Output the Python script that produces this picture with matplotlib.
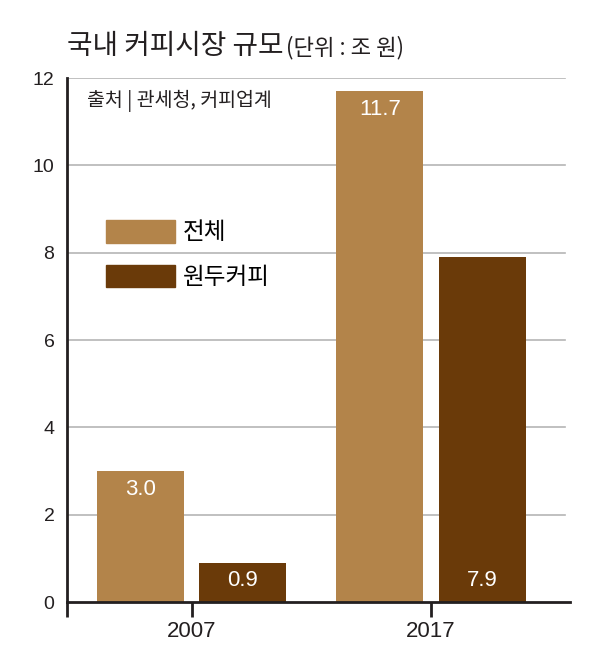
import matplotlib
matplotlib.use("Agg")
import matplotlib.pyplot as plt
import numpy as np
from matplotlib.patches import Patch

plt.rcParams['font.family'] = ['Noto Sans CJK KR', 'DejaVu Sans']

# 데이터
years = ['2007', '2017']
total = [3.0, 11.7]      # 전체
beans = [0.9, 7.9]       # 원두커피
series_names = ['전체', '원두커피']
yticks = [0, 2, 4, 6, 8, 10, 12]

c_total = '#b3844a'
c_beans = '#6a3a09'
num_font = ['Liberation Sans', 'DejaVu Sans']

fig = plt.figure(figsize=(5.97, 6.5), dpi=100)
ax = fig.add_axes([0.1122, 0.0738, 0.8425, 0.806])

x = np.arange(len(years))
w = 0.362
off = 0.214
ax.bar(x - off, total, w, color=c_total, zorder=2)
ax.bar(x + off, beans, w, color=c_beans, zorder=2)

# 막대 값 표시
for xi, v in zip(x, total):
    ax.text(xi - off, v - 0.42, f'{v:.1f}', ha='center', va='center',
            color='white', fontsize=16, family=num_font, zorder=3)
for xi, v in zip(x, beans):
    ax.text(xi + off, 0.5, f'{v:.1f}', ha='center', va='center',
            color='white', fontsize=16, family=num_font, zorder=3)

xmin, xmax = -0.52, 1.58
ax.set_xlim(xmin, xmax)
ax.set_ylim(0, 12)

# 격자
for t in yticks[1:]:
    ax.plot([xmin, 1.56], [t, t], color='#b5b5b5', lw=1.2, zorder=1)

for s in ['top', 'right']:
    ax.spines[s].set_visible(False)
for s in ['left', 'bottom']:
    ax.spines[s].set_linewidth(2)
    ax.spines[s].set_color('#231f20')

ax.set_yticks(yticks)
ax.set_yticklabels([str(t) for t in yticks], family=num_font, fontsize=14, color='#231f20')
ax.tick_params(axis='y', length=0, pad=9)

ax.set_xticks([xmin] + list(x))
ax.set_xticklabels([''] + years, family=num_font, fontsize=16, color='#231f20')
ax.tick_params(axis='x', length=11, width=2, color='#231f20', pad=3)

# 범례
handles = [Patch(color=c_total), Patch(color=c_beans)]
ax.legend(handles, series_names, loc='upper left', bbox_to_anchor=(0.077, 0.729),
          frameon=False, fontsize=17, handlelength=2.92, handleheight=1.1,
          labelspacing=0.85, handletextpad=0.35, borderaxespad=0, borderpad=0)

# 출처
ax.text(0.04, 0.977, '출처 | 관세청, 커피업계', transform=ax.transAxes,
        fontsize=14, va='top', ha='left', color='#231f20')

# 제목
title = fig.text(0.113, 0.917, '국내 커피시장 규모', fontsize=20,
                 ha='left', va='baseline', color='#231f20')
fig.canvas.draw()
bb = title.get_window_extent()
fig.text(bb.x1 / fig.bbox.width + 0.004, 0.917, '(단위 : 조 원)', fontsize=16,
         ha='left', va='baseline', color='#231f20')

fig.savefig('out.png', dpi=100)
